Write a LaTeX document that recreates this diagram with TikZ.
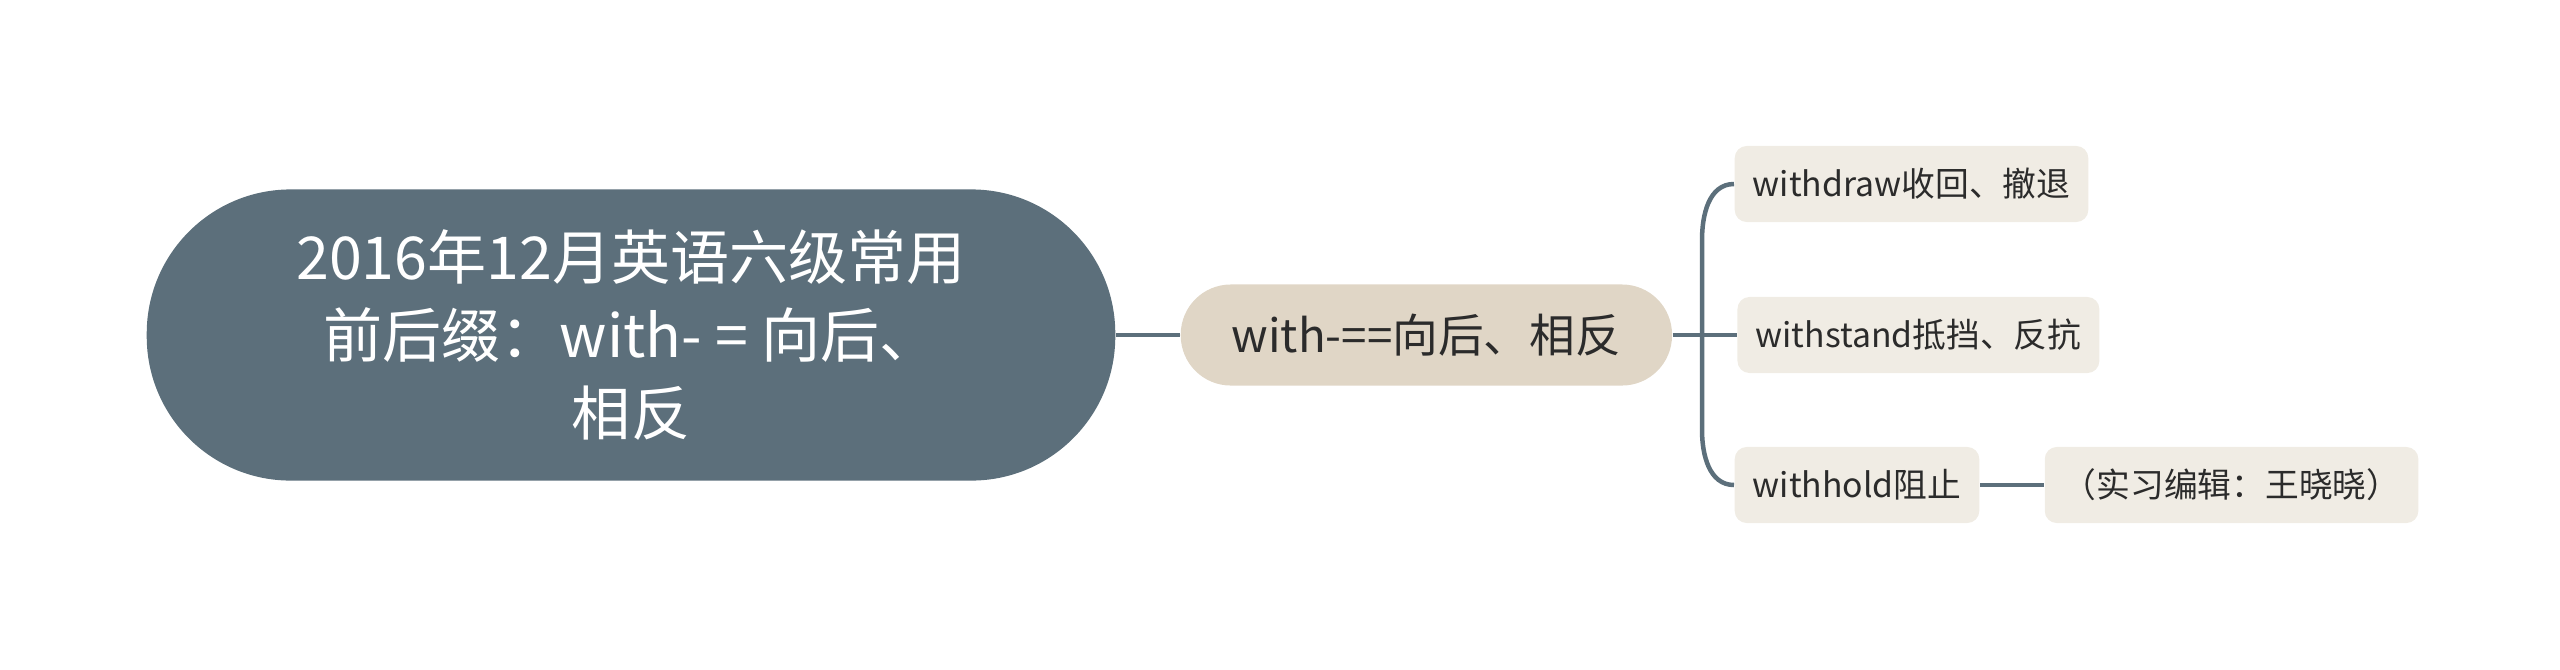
\documentclass[tikz,border=0pt]{standalone}
\usepackage{fontspec}
\setmainfont{Noto Sans CJK SC}
\usepackage{tikz}
\usetikzlibrary{positioning}
\definecolor{slate}{HTML}{5C6F7B}
\definecolor{sand}{HTML}{E0D6C6}
\definecolor{paper}{HTML}{F0ECE4}
\definecolor{ink}{HTML}{2B2B2B}

\begin{document}
\begin{tikzpicture}[x=0.01cm, y=-0.01cm, node distance={0.64cm},
  root/.style = {fill=slate, text=white, align=center, rounded corners=1.44cm, minimum width=9.68cm, minimum height=2.91cm, inner sep=0pt, font=\fontsize{16.8}{22.2}\selectfont},
  topic/.style = {fill=sand, text=ink, rounded corners=0.5cm, minimum width=4.91cm, minimum height=1.01cm, inner sep=0pt, font=\fontsize{13}{15}\selectfont},
  leaf/.style = {fill=paper, text=ink, rounded corners=0.12cm, minimum height=0.76cm, inner xsep=0.18cm, inner ysep=0pt, font=\fontsize{9.6}{12}\selectfont},
  link/.style = {draw=slate, line width=0.045cm}]
\useasboundingbox (0,0) rectangle (2560,669);
\node[root] (R) at (631,335) {2016年12月英语六级常用\\前后缀：with- = 向后、\\相反};
\node[topic] (W) [right=of R] {with-==向后、相反};
\node[leaf] (L2) [right=of W] {withstand抵挡、反抗};
\node[leaf, anchor=west] (L1) at (1734,184) {withdraw收回、撤退};
\node[leaf, anchor=west] (L3) at (1734,485) {withhold阻止};
\node[leaf] (N) [right=of L3] {（实习编辑：王晓晓）};
\coordinate (Tup) at (1702,240);
\coordinate (Tdn) at (1702,430);
\draw[link] (R) -- (W);
\draw[link] (W) -- (L2);
\draw[link] (L1.west) to[out=180,in=90] (Tup) -- (Tdn) to[out=-90,in=180] (L3.west);
\draw[link] (L3) -- (N);
\end{tikzpicture}
\end{document}
